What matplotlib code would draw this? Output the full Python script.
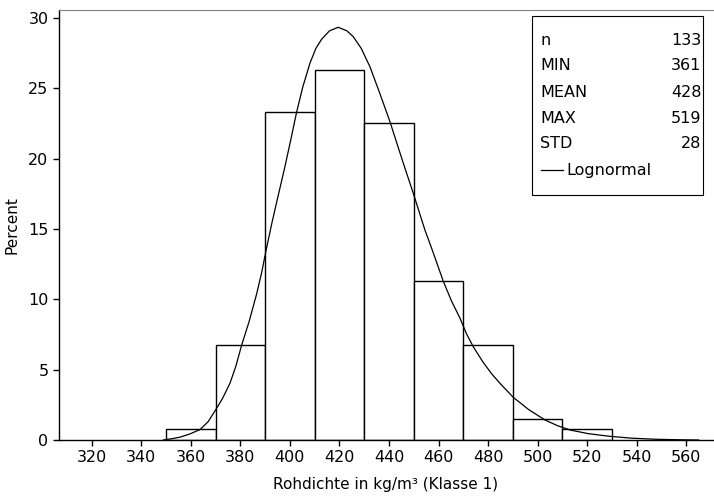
import matplotlib
matplotlib.use("Agg")
import matplotlib.pyplot as plt
from matplotlib.patches import Rectangle

# histogram classes (midpoints) and counts, n = 133
bin_mid = [360, 380, 400, 420, 440, 460, 480, 500, 520]
counts = [1, 9, 31, 35, 30, 15, 9, 2, 1]
n_total = 133

# fitted lognormal curve (percent per class)
curve_x = [348.9, 352.0, 355.6, 359.5, 363.7, 367.0, 370.0, 372.8, 375.8, 378.2,
           380.5, 383.5, 386.6, 388.6, 390.4, 392.7, 395.3, 398.0, 400.3, 402.7,
           405.2, 408.1, 410.5, 412.8, 416.0, 419.5, 423.0, 425.6, 428.8, 432.3,
           436.2, 440.4, 443.1, 445.8, 449.6, 454.5, 457.5, 461.9, 465.2, 468.7,
           471.3, 474.0, 478.1, 481.5, 484.8, 490.2, 496.5, 503.0, 508.0, 513.1,
           520.5, 529.2, 538.0, 548.0, 556.0, 565.0]
curve_y = [0.0, 0.08, 0.2, 0.42, 0.74, 1.3, 2.13, 2.95, 4.03, 5.25,
           6.73, 8.4, 10.4, 11.9, 13.5, 15.4, 17.4, 19.44, 21.3, 23.3,
           25.1, 26.8, 27.85, 28.5, 29.1, 29.35, 29.1, 28.68, 27.85, 26.55,
           24.7, 22.64, 21.15, 19.68, 17.66, 14.94, 13.5, 11.3, 9.9, 8.65,
           7.55, 6.64, 5.5, 4.7, 4.03, 3.03, 2.15, 1.42, 1.02, 0.71,
           0.45, 0.26, 0.13, 0.05, 0.02, 0.0]

stat_names = ["n", "MIN", "MEAN", "MAX", "STD"]
stat_values = ["133", "361", "428", "519", "28"]

percent = [c / n_total * 100 for c in counts]

fig = plt.figure(figsize=(7.14, 4.98), dpi=100)
ax = fig.add_axes([59 / 714, 58 / 498, 654 / 714, 430 / 498])

ax.bar(bin_mid, percent, width=20, facecolor="white", edgecolor="black", linewidth=1)
ax.plot(curve_x, curve_y, color="black", linewidth=0.9)

ax.set_xlim(306.8, 570.8)
ax.set_ylim(0, 30.58)
ax.set_xticks(range(320, 561, 20))
ax.set_yticks([0, 5, 10, 15, 20, 25, 30])
ax.tick_params(axis="both", labelsize=11.5, direction="out", length=4, width=1)

ax.spines["right"].set_visible(False)
ax.spines["top"].set_color("#808080")
ax.spines["left"].set_linewidth(1)
ax.spines["bottom"].set_linewidth(1)

ax.set_xlabel("Rohdichte in kg/m³ (Klasse 1)", fontsize=11, labelpad=8)
ax.set_ylabel("Percent", fontsize=11, labelpad=6)

# statistics box
ax.add_patch(Rectangle((0.7237, 0.5698), 0.261, 0.4169, transform=ax.transAxes,
                       facecolor="white", edgecolor="black", linewidth=0.8, zorder=5))
row_y = [0.9302, 0.8698, 0.8093, 0.7488, 0.6884]
for name, val, y in zip(stat_names, stat_values, row_y):
    ax.text(0.7355, y, name, transform=ax.transAxes, fontsize=11.5, va="center", zorder=6)
    ax.text(0.9827, y, val, transform=ax.transAxes, fontsize=11.5, va="center", ha="right", zorder=6)
ax.plot([0.7366, 0.7712], [0.6279, 0.6279], transform=ax.transAxes, color="black",
        linewidth=0.9, zorder=6)
ax.text(0.7765, 0.6279, "Lognormal", transform=ax.transAxes, fontsize=11.5, va="center", zorder=6)

fig.savefig("out.png", dpi=100)
